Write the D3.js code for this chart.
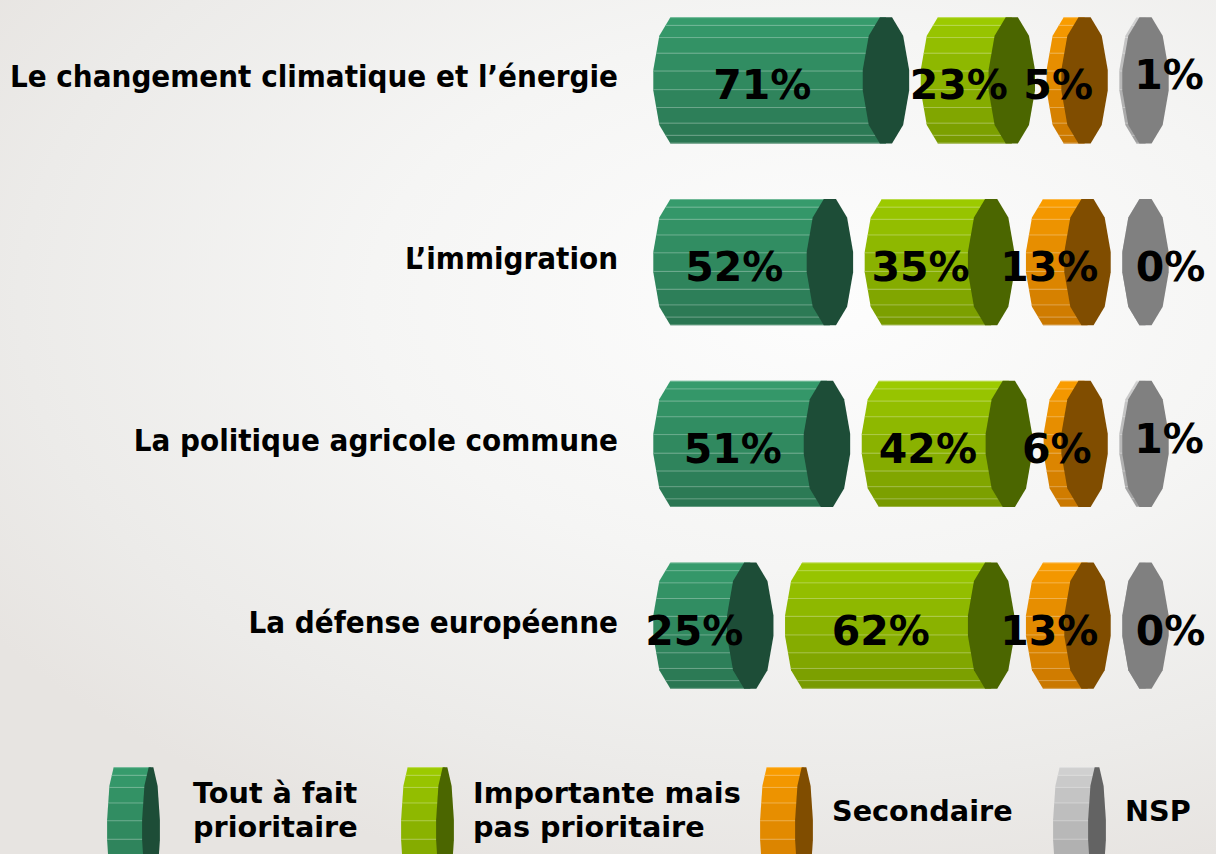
<!DOCTYPE html>
<html>
<head>
<meta charset="utf-8">
<script src="https://cdn.jsdelivr.net/npm/d3@7"></script>
<style>
  html, body { margin: 0; padding: 0; overflow: hidden; }
  .cat { font-family: "DejaVu Sans Condensed", "DejaVu Sans", sans-serif; font-weight: bold; font-stretch: condensed; }
  .val, .leg { font-family: "DejaVu Sans", Verdana, sans-serif; font-weight: bold; }
</style>
</head>
<body>
<div id="chart"></div>
<script>
// data
var categories = [
  "Le changement climatique et l\u2019\u00e9nergie",
  "L\u2019immigration",
  "La politique agricole commune",
  "La d\u00e9fense europ\u00e9enne"
];
var seriesNames = ["Tout \u00e0 fait prioritaire", "Importante mais pas prioritaire", "Secondaire", "NSP"];
var toutAFait   = [71, 52, 51, 25];
var importante  = [23, 35, 42, 62];
var secondaire  = [5, 13, 6, 13];
var nsp         = [1, 0, 1, 0];
var series = [toutAFait, importante, secondaire, nsp];
var legendLines = [["Tout \u00e0 fait", "prioritaire"], ["Importante mais", "pas prioritaire"], ["Secondaire"], ["NSP"]];

// styles
var bodyTop    = ["#37a06f", "#a0d000", "#ffa000", "#d6d6d6"];
var bodyBottom = ["#29714f", "#739400", "#c47300", "#999999"];
var capColor   = ["#1d4d37", "#4b6600", "#804d00", "#808080"];
var legendCap  = ["#1d4d37", "#4b6600", "#804d00", "#636363"];

var W = 1216, H = 854;
var svg = d3.select("#chart").append("svg")
  .attr("width", W).attr("height", H);

// background
var defs = svg.append("defs");
var bg = defs.append("radialGradient")
  .attr("id", "bg")
  .attr("gradientUnits", "userSpaceOnUse")
  .attr("cx", 820).attr("cy", 300).attr("r", 1000)
  .attr("gradientTransform", "translate(820,300) scale(1,0.6) translate(-820,-300)");
bg.append("stop").attr("offset", 0).attr("stop-color", "#fdfdfd");
bg.append("stop").attr("offset", 0.45).attr("stop-color", "#f5f5f4");
bg.append("stop").attr("offset", 0.8).attr("stop-color", "#ecebe9");
bg.append("stop").attr("offset", 1).attr("stop-color", "#e7e4e1");
svg.append("rect").attr("width", W).attr("height", H).attr("fill", "url(#bg)");

// scales
var y = d3.scaleBand().domain(categories).range([15, 691]).paddingInner(0.281).paddingOuter(0);
var len = d3.scaleLinear().domain([0, 100]).range([0, 295]);
var x0 = 653, rx = 23.5, gap = 11;

// outline angles (deg from top) of the faceted end caps, right half
var halfAngles = [15, 47, 81, 99, 133, 165];
var rad = Math.PI / 180;
var bands = 11;
var clipId = 0;

function capPts(cx, cy, ex, ey) {
  var right = halfAngles.map(function (a) { return [cx + ex * Math.sin(a * rad), cy - ey * Math.cos(a * rad)]; });
  var left = halfAngles.slice().reverse().map(function (a) { return [cx - ex * Math.sin(a * rad), cy - ey * Math.cos(a * rad)]; });
  return right.concat(left);
}

// draws a horizontal faceted cylinder between two end-cap centres
function drawCylinder(g, cxL, cxR, cy, ex, ey, si, cap) {
  var shade = d3.interpolateRgb(bodyTop[si], bodyBottom[si]);
  var a0 = halfAngles[0] * rad, aN = halfAngles[halfAngles.length - 1] * rad;
  var outline = [[cxR, cy - ey * Math.cos(a0)]];
  halfAngles.forEach(function (a) {
    outline.push([cxL - ex * Math.sin(a * rad), cy - ey * Math.cos(a * rad)]);
  });
  outline.push([cxR, cy - ey * Math.cos(aN)]);

  var id = "clip" + (clipId++);
  defs.append("clipPath").attr("id", id)
    .append("path").attr("d", "M" + outline.join("L") + "Z");
  var body = g.append("g").attr("clip-path", "url(#" + id + ")");
  for (var i = 0; i < bands; i++) {
    var y1 = cy - ey * Math.cos(i * Math.PI / bands);
    var y2 = cy - ey * Math.cos((i + 1) * Math.PI / bands);
    body.append("rect")
      .attr("x", cxL - ex - 1).attr("y", y1)
      .attr("width", cxR - cxL + ex + 2).attr("height", y2 - y1 + 0.5)
      .attr("fill", shade(i / (bands - 1)));
    if (i > 0) {
      body.append("line")
        .attr("x1", cxL - ex - 1).attr("x2", cxR)
        .attr("y1", y1).attr("y2", y1)
        .attr("stroke", "#ffffff").attr("stroke-opacity", 0.3).attr("stroke-width", 1);
    }
  }
  g.append("path")
    .attr("d", "M" + capPts(cxR, cy, ex, ey).join("L") + "Z")
    .attr("fill", cap);
}

// bars
var bars = svg.append("g");
var labels = svg.append("g");
categories.forEach(function (c, ci) {
  var cy = y(c) + y.bandwidth() / 2;
  var ey = y.bandwidth() / 2;
  var xs = x0;
  series.forEach(function (s, si) {
    var v = s[ci];
    var l = len(v);
    var cxL = xs + rx, cxR = xs + rx + l;
    drawCylinder(bars.append("g"), cxL, cxR, cy, rx, ey, si, capColor[si]);
    var mid = xs + (l + 2 * rx) / 2;
    var dx = si === 3 ? 25 : -19;
    var dy = (si === 3 && v > 0) ? -10 : 0;
    labels.append("text")
      .attr("class", "val")
      .attr("x", mid + dx)
      .attr("y", cy + 19 + dy)
      .attr("text-anchor", "middle")
      .style("font-size", "41px")
      .text(v + "%");
    xs += l + 2 * rx + gap;
  });

  // category label
  labels.append("text")
    .attr("class", "cat")
    .attr("x", 618)
    .attr("y", cy + 7)
    .attr("text-anchor", "end")
    .style("font-size", "31px")
    .text(c);
});

// legend
var legendX = [107, 401, 760, 1053];
var legend = svg.append("g");
seriesNames.forEach(function (n, si) {
  var lx = legendX[si];
  drawCylinder(legend.append("g"), lx + 9, lx + 44, 765 + 65, 9, 65, si, legendCap[si]);
  var lines = legendLines[si];
  var t = legend.append("text")
    .attr("class", "leg")
    .style("font-size", "28.7px");
  lines.forEach(function (ln, li) {
    t.append("tspan")
      .attr("x", lx + (si === 0 ? 86 : 72))
      .attr("y", lines.length === 1 ? 821 : 803 + li * 34)
      .text(ln);
  });
});
</script>
</body>
</html>
